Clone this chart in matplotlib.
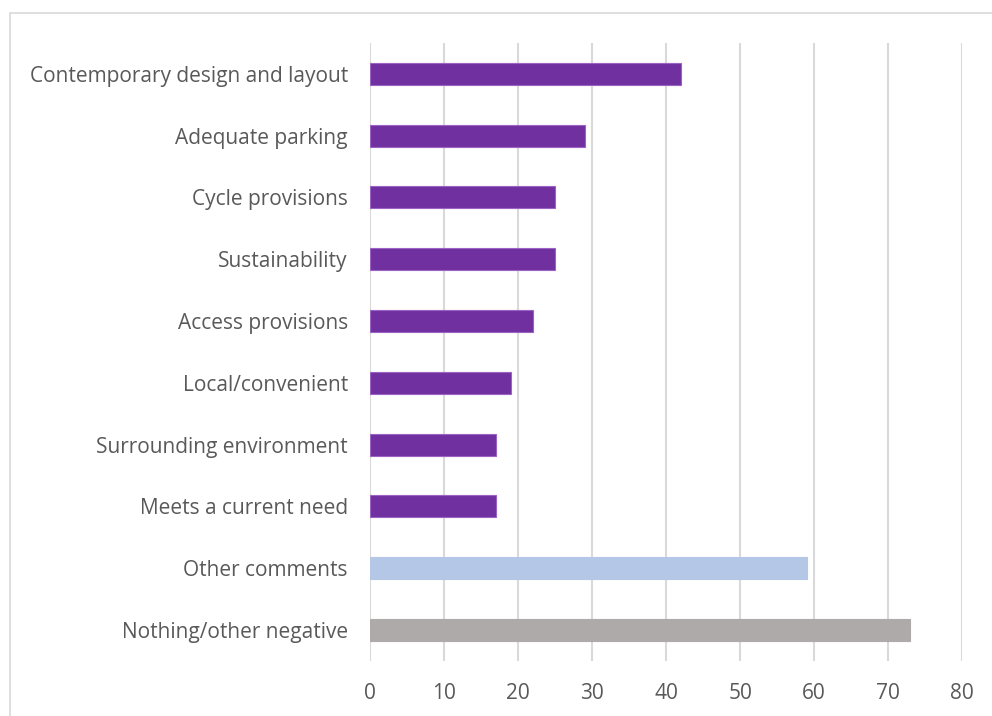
import matplotlib.pyplot as plt
from matplotlib.patches import Rectangle

# Responses per theme (top to bottom as displayed)
categories = [
    "Contemporary design and layout",
    "Adequate parking",
    "Cycle provisions",
    "Sustainability",
    "Access provisions",
    "Local/convenient",
    "Surrounding environment",
    "Meets a current need",
    "Other comments",
    "Nothing/other negative",
]
counts = [42, 29, 25, 25, 22, 19, 17, 17, 59, 73]
bar_colors = ["#7030A0"] * 8 + ["#B4C7E7", "#AEAAAA"]
edge_colors = ["#9B64C4"] * 8 + ["#B4C7E7", "#AEAAAA"]

plt.rcParams["font.family"] = ["Open Sans", "DejaVu Sans"]

fig = plt.figure(figsize=(9.92, 7.16), dpi=100)
ax = fig.add_axes([0.373, 0.077, 0.597, 0.863])

ypos = list(range(len(categories)))
ax.barh(ypos, counts, height=0.355, color=bar_colors, edgecolor=edge_colors,
        linewidth=0.8, zorder=3)
ax.set_ylim(len(categories) - 0.5, -0.5)
ax.set_yticks(ypos)
ax.set_yticklabels(categories)

ax.set_xlim(0, 80)
ax.set_xticks(range(0, 81, 10))

ax.grid(axis="x", color="#D9D9D9", linewidth=1.5, zorder=0)
for side in ["top", "right", "bottom", "left"]:
    ax.spines[side].set_visible(False)
ax.tick_params(axis="both", length=0, labelsize=15, colors="#595959")
ax.tick_params(axis="x", pad=16)
ax.tick_params(axis="y", pad=16)

# chart frame (only top and left edges fall inside the image)
frame = Rectangle((10 / 992, -0.1), 1.2, 1.1 - 13 / 716, transform=fig.transFigure,
                  fill=False, edgecolor="#D9D9D9", linewidth=1.2)
fig.patches.append(frame)

plt.savefig("out.png", dpi=100)
